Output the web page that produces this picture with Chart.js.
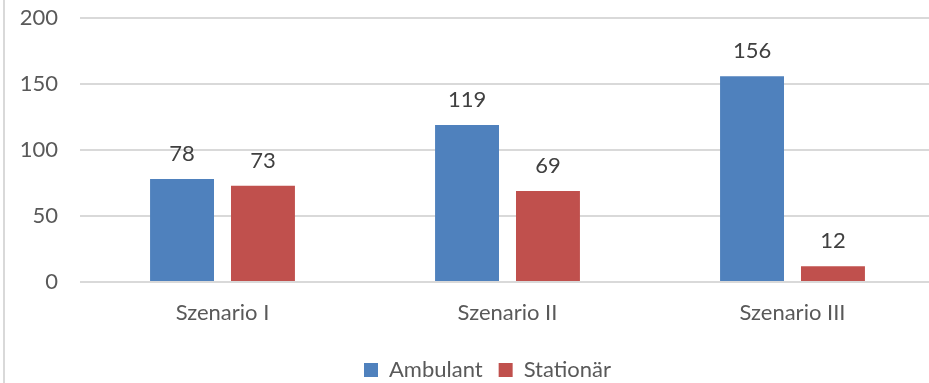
<!DOCTYPE html>
<html>
<head>
<meta charset="utf-8">
<title>Szenarien</title>
<script src="https://cdn.jsdelivr.net/npm/chart.js@4"></script>
<style>
    body { margin: 0; overflow: hidden; background: #fff; }
    #rahmen { position: absolute; left: 3px; top: 0; width: 2px; height: 383px; background: #d9d9d9; }
    #box { position: absolute; left: 0; top: -17px; width: 935px; height: 408px; }
</style>
</head>
<body>
<div id="box"><canvas id="grafik"></canvas></div>
<div id="rahmen"></div>
<script>
// Daten der drei Szenarien
const szenarien = ['Szenario I', 'Szenario II', 'Szenario III'];
const ambulant = [78, 119, 156];
const stationaer = [73, 69, 12];
const yTicks = [0, 50, 100, 150, 200];

const schrift = 'Lato, "Open Sans", sans-serif';

// Werte über den Balken ausgeben
const wertLabels = {
    id: 'wertLabels',
    afterDatasetsDraw(chart) {
        const ctx = chart.ctx;
        ctx.save();
        ctx.font = '22px ' + schrift;
        ctx.fillStyle = '#404040';
        ctx.textAlign = 'center';
        ctx.textBaseline = 'alphabetic';
        chart.data.datasets.forEach((ds, i) => {
            chart.getDatasetMeta(i).data.forEach((bar, j) => {
                ctx.fillText(ds.data[j], bar.x, bar.y - 18);
            });
        });
        ctx.restore();
    }
};

// Legende mittig unter dem Plotbereich statt unter der ganzen Fläche
const legendeVerschieben = {
    id: 'legendeVerschieben',
    afterLayout(chart) {
        const d = (chart.chartArea.left - 80 + 40) / 2;
        chart.legend.left += d;
        chart.legend.right += d;
    }
};

new Chart(document.getElementById('grafik'), {
    type: 'bar',
    data: {
        labels: szenarien,
        datasets: [
            { label: 'Ambulant', data: ambulant, backgroundColor: '#4f81bd' },
            { label: 'Stationär', data: stationaer, backgroundColor: '#c0504d' }
        ]
    },
    options: {
        responsive: true,
        maintainAspectRatio: false,
        animation: false,
        barPercentage: 0.79,
        categoryPercentage: 0.568,
        layout: { padding: { top: 1, right: 0, bottom: 0, left: 0 } },
        plugins: {
            tooltip: { enabled: false },
            legend: {
                position: 'bottom',
                labels: {
                    boxWidth: 14,
                    boxHeight: 14,
                    padding: 16,
                    color: '#595959',
                    font: { family: schrift, size: 22 }
                }
            }
        },
        scales: {
            x: {
                afterFit(scale) { scale.height = 61; },
                grid: { display: false },
                border: { display: false },
                ticks: { color: '#595959', padding: 10, font: { family: schrift, size: 22 } }
            },
            y: {
                min: 0,
                max: 200,
                afterFit(scale) { scale.width = 80; },
                afterBuildTicks(scale) { scale.ticks = yTicks.map(v => ({ value: v })); },
                grid: { color: '#d9d9d9', lineWidth: 2, drawTicks: false },
                border: { display: false },
                ticks: { color: '#595959', padding: 22, font: { family: schrift, size: 22 } }
            }
        }
    },
    plugins: [wertLabels, legendeVerschieben]
});
</script>
</body>
</html>
